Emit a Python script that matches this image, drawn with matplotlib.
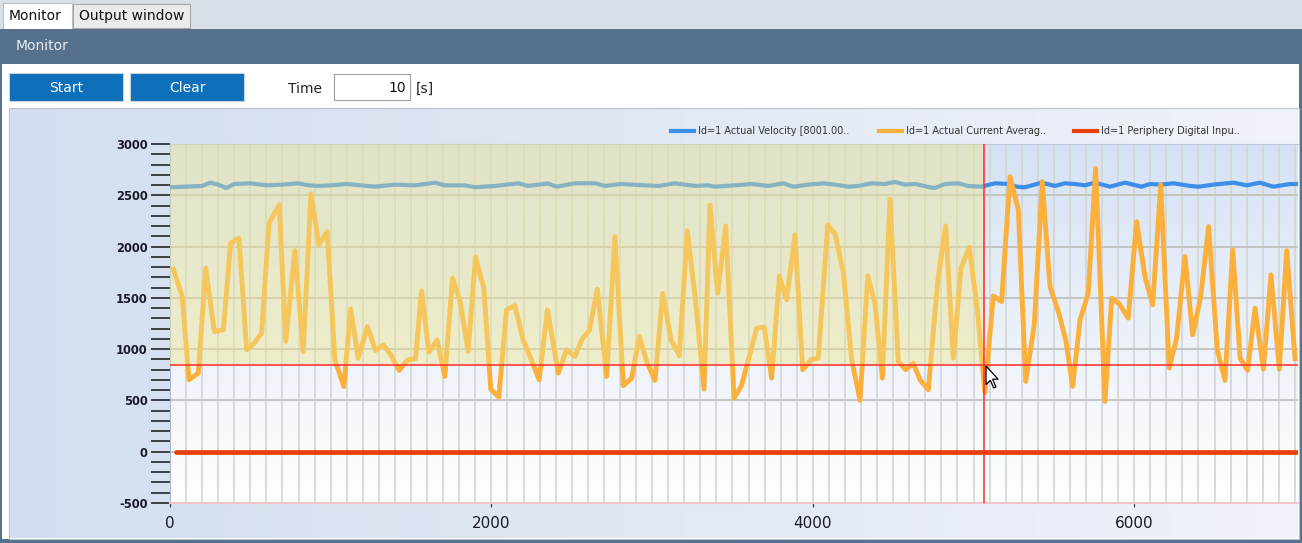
import numpy as np
import matplotlib
matplotlib.use('Agg')
import matplotlib.pyplot as plt
from matplotlib.patches import Rectangle, Polygon
from matplotlib.ticker import MultipleLocator

plt.rcParams['axes.unicode_minus'] = False

# Values
velocity_t = [0, 100, 200, 250, 300, 350, 400, 500, 600, 700, 800, 850, 915, 1000,
              1100, 1276, 1400, 1524, 1649, 1711, 1835, 1898, 2022, 2167, 2229, 2350,
              2406, 2520, 2645, 2707, 2800, 2956, 3039, 3142, 3267, 3350, 3391, 3516,
              3620, 3723, 3817, 3879, 3972, 4066, 4138, 4221, 4283, 4366, 4449, 4512,
              4574, 4636, 4729, 4760, 4822, 4905, 4967, 5050, 5133, 5216, 5268, 5320,
              5424, 5507, 5569, 5631, 5693, 5755, 5818, 5849, 5943, 6046, 6098, 6161,
              6244, 6348, 6400, 6493, 6617, 6700, 6783, 6866, 6970, 7039]
velocity = [2578, 2584, 2591, 2623, 2604, 2571, 2610, 2617, 2597, 2604, 2617, 2600, 2591, 2597,
            2610, 2584, 2604, 2597, 2623, 2597, 2597, 2578, 2591, 2617, 2591, 2615,
            2584, 2617, 2617, 2591, 2610, 2597, 2591, 2617, 2591, 2597, 2584, 2597,
            2610, 2591, 2617, 2584, 2604, 2617, 2604, 2584, 2591, 2617, 2610, 2630,
            2604, 2610, 2578, 2571, 2610, 2617, 2591, 2584, 2617, 2610, 2584, 2578,
            2623, 2591, 2617, 2610, 2597, 2623, 2597, 2584, 2623, 2584, 2610, 2604,
            2617, 2591, 2584, 2604, 2623, 2597, 2623, 2584, 2610, 2610]

current_t = [21, 76, 118, 176, 222, 276, 332, 377, 429, 477, 524, 570, 616, 680, 720, 777,
             829, 877, 927, 978, 1026, 1082, 1124, 1171, 1229, 1279, 1327, 1374, 1426,
             1478, 1528, 1565, 1611, 1662, 1710, 1758, 1806, 1855, 1901, 1953, 1996, 2046,
             2094, 2146, 2197, 2249, 2297, 2349, 2416, 2468, 2520, 2562, 2609, 2659, 2717,
             2769, 2821, 2873, 2920, 2970, 3018, 3066, 3118, 3169, 3219, 3271, 3323, 3360,
             3408, 3458, 3510, 3555, 3605, 3651, 3698, 3744, 3792, 3837, 3889, 3937, 3993,
             4034, 4093, 4139, 4191, 4242, 4294, 4342, 4387, 4433, 4480, 4532, 4578, 4625,
             4667, 4719, 4777, 4827, 4874, 4922, 4974, 5024, 5071, 5123, 5175, 5227, 5279,
             5325, 5378, 5428, 5476, 5528, 5574, 5617, 5663, 5714, 5760, 5818, 5860, 5907,
             5963, 6015, 6067, 6115, 6165, 6218, 6264, 6316, 6364, 6414, 6463, 6517, 6565,
             6613, 6659, 6706, 6752, 6804, 6851, 6903, 6949, 7001]
current = [1779, 1513, 701, 766, 1789, 1172, 1188, 2032, 2081, 993, 1058, 1156, 2227, 2406, 1075, 1961,
           977, 2513, 2016, 2146, 896, 636, 1393, 912, 1221, 987, 1042, 945, 792,
           896, 906, 1568, 968, 1091, 734, 1692, 1464, 977, 1896, 1594, 610, 532,
           1383, 1425, 1091, 896, 701, 1383, 766, 993, 928, 1091, 1182, 1584, 734,
           2097, 643, 717, 1123, 863, 695, 1545, 1091, 935, 2156, 1464, 610, 2406,
           1545, 2201, 523, 640, 930, 1204, 1214, 717, 1714, 1480, 2114, 799, 902,
           912, 2211, 2123, 1740, 896, 500, 1714, 1448, 717, 2461, 880, 799, 863,
           701, 604, 1659, 2201, 912, 1789, 1993, 1383, 578, 1519, 1464, 2682, 2357,
           685, 1237, 2633, 1610, 1367, 1091, 636, 1286, 1545, 2763, 490, 1497, 1442,
           1302, 2243, 1708, 1432, 2601, 815, 1107, 1903, 1140, 1513, 2195, 993, 695,
           1967, 912, 792, 1399, 805, 1724, 805, 1961, 906]

digital_t = [35, 7040]
digital = [0, 0]

cursor_t = 5068
cursor_val = 850

legend_labels = ['Id=1 Actual Velocity [8001.00..',
                 'Id=1 Actual Current Averag..',
                 'Id=1 Periphery Digital Inpu..']
colors = ['#3d8ee8', '#fbb03b', '#e8400c']

fig = plt.figure(figsize=(13.02, 5.43), dpi=100)

# window chrome drawn in pixel coordinates
bg = fig.add_axes([0, 0, 1, 1])
bg.axis('off')
bg.add_patch(Rectangle((0, 0), 1302, 543, fc='white', lw=0))
bg.add_patch(Rectangle((0, 0), 1302, 29, fc='#d9dfe7', lw=0))
bg.add_patch(Rectangle((3, 3), 69, 27, fc='white', ec='#b8c0cc', lw=0.8))
bg.add_patch(Rectangle((73, 4), 117, 24, fc='#ebebeb', ec='#a8a8a8', lw=0.8))
bg.text(9, 16, 'Monitor', fontsize=10, va='center', color='#111111')
bg.text(79, 16, 'Output window', fontsize=10, va='center', color='#111111')
bg.add_patch(Rectangle((0, 29), 1302, 35, fc='#56718c', lw=0))
bg.text(16, 46, 'Monitor', fontsize=10, va='center', color='#e8eef5')
bg.add_patch(Rectangle((0, 29), 2, 514, fc='#56718c', lw=0))
bg.add_patch(Rectangle((1299, 29), 3, 514, fc='#56718c', lw=0))
bg.add_patch(Rectangle((0, 539), 1302, 4, fc='#56718c', lw=0))

# buttons and time box
for x0, txt in [(9, 'Start'), (130, 'Clear')]:
    bg.add_patch(Rectangle((x0, 73), 114, 28, fc='#0e6fba', ec='#c8d0da', lw=0.8))
    bg.text(x0 + 57, 88, txt, fontsize=10, ha='center', va='center', color='white')
bg.text(288, 89, 'Time', fontsize=10, va='center', color='#222222')
bg.add_patch(Rectangle((334, 74), 76, 26, fc='white', ec='#a0a0a0', lw=0.8))
bg.text(406, 88, '10', fontsize=10, ha='right', va='center', color='#111111')
bg.text(416, 89, '[s]', fontsize=10, va='center', color='#222222')

# chart container with soft gradient
grad = np.linspace(0, 1, 256)
c0 = np.array([210, 222, 239]) / 255
c1 = np.array([240, 243, 249]) / 255
cont = (c0[None, :] * (1 - grad[:, None]) + c1[None, :] * grad[:, None])[None, :, :]
bg.imshow(cont, extent=(10, 1298, 538, 109), aspect='auto', zorder=1)
bg.add_patch(Rectangle((9, 108), 1290, 431, fill=False, ec='#b8c2d0', lw=0.8, zorder=2))

# legend
lx = [(671, 698), (879, 906), (1074, 1101)]
for (x_line, x_txt), lab, col in zip(lx, legend_labels, colors):
    bg.plot([x_line, x_line + 23], [131, 131], color=col, lw=3, zorder=3)
    bg.text(x_txt, 131, lab, fontsize=7, va='center', color='#333333', zorder=3)

bg.set_xlim(0, 1302)
bg.set_ylim(543, 0)

# plot area
ax = fig.add_axes([170 / 1302, 40 / 543, 1128 / 1302, 359 / 543])
pg = np.linspace(0, 1, 256)
top = np.array([214, 226, 243]) / 255
bot = np.array([255, 255, 255]) / 255
plot_grad = (top[None, :] * (1 - pg[:, None]) + bot[None, :] * pg[:, None])[:, None, :]
ax.imshow(plot_grad, extent=(0, 1, 0, 1), transform=ax.transAxes, aspect='auto', zorder=0)

ax.plot(velocity_t, velocity, color=colors[0], lw=3, zorder=3)
ax.plot(current_t, current, color=colors[1], lw=3.5, zorder=3)
ax.plot(digital_t, digital, color=colors[2], lw=3.4, solid_capstyle='round', zorder=3)

# selection box and crosshair
ax.add_patch(Rectangle((0, cursor_val), cursor_t, 3000 - cursor_val,
                       fc=(0.93, 0.90, 0.55), alpha=0.42, lw=0, zorder=4))
ax.axvline(cursor_t, color='#ff2a2a', lw=1.1, zorder=5)
ax.axhline(cursor_val, color='#ff2a2a', lw=1.1, zorder=5)

ax.set_xlim(0, 1128 / 0.1607)
ax.set_ylim(-500, 3000)

ax.set_xticks([0, 2000, 4000, 6000])
ax.xaxis.set_minor_locator(MultipleLocator(100))
ax.yaxis.set_major_locator(MultipleLocator(500))
ax.yaxis.set_minor_locator(MultipleLocator(100))
ax.grid(which='both', axis='x', color='#d4d4d4', lw=1.2, zorder=1)
ax.grid(which='major', axis='y', color='#c4c4c4', lw=1.4, zorder=1)

ax.tick_params(axis='y', which='both', direction='out', length=14, width=1.1,
               color='#151515', labelsize=8.3, pad=2, labelcolor='#1a1a2a')
ax.tick_params(axis='x', which='major', length=3, color='#333333', labelsize=11,
               pad=6, labelcolor='#1a1a2a')
ax.tick_params(axis='x', which='minor', length=0)
plt.setp(ax.get_yticklabels(), fontweight='bold')

ax.spines['left'].set_color('#a9bbd3')
ax.spines['top'].set_color('#b7c8df')
ax.spines['bottom'].set_color('#f6c4cc')
ax.spines['bottom'].set_linewidth(1.5)
ax.spines['right'].set_visible(False)

# mouse pointer on top
over = fig.add_axes([0, 0, 1, 1], zorder=10)
over.patch.set_alpha(0)
over.axis('off')
arrow = np.array([[0, 0], [0, 17], [4, 13], [7, 20], [9, 19], [6, 12], [11, 12]]) * 1.1
arrow[:, 0] += 986
arrow[:, 1] += 366
over.add_patch(Polygon(arrow, closed=True, fc='white', ec='black', lw=0.9))
over.set_xlim(0, 1302)
over.set_ylim(543, 0)

plt.savefig('out.png', dpi=100)
plt.close()
